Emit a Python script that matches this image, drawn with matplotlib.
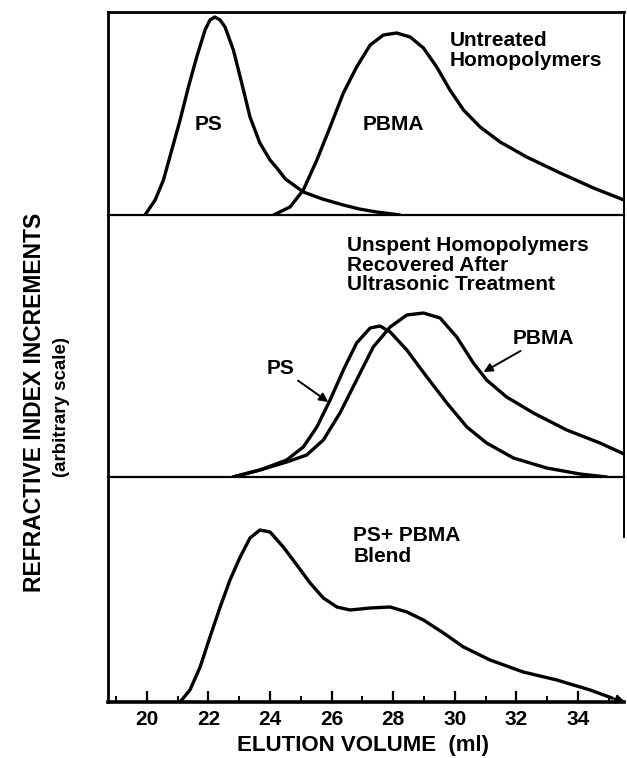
import matplotlib
matplotlib.use("Agg")
import matplotlib.pyplot as plt
from matplotlib.ticker import MultipleLocator

plt.rcParams['font.family'] = ['Liberation Sans', 'DejaVu Sans']
plt.rcParams['font.weight'] = 'bold'

# ---- data (elution volume in ml, detector response in arbitrary units) ----
top_ps_x = [19.94, 20.27, 20.54, 20.81, 21.08, 21.35, 21.62, 21.89, 22.05, 22.21, 22.38, 22.54, 22.81, 23.08, 23.35,
            23.67, 24.0, 24.22, 24.5, 25.08, 25.7, 26.38, 26.9, 27.46, 28.22]
top_ps_y = [0, 15, 35, 65, 95, 128, 158, 185, 195, 198, 195, 188, 165, 132, 98,
            72, 55, 47, 36, 23, 16, 10, 6, 3, 0]

top_pbma_x = [24.11, 24.65, 25.08, 25.52, 25.95, 26.38, 26.81, 27.25, 27.68, 28.11, 28.55, 28.98, 29.41,
              29.84, 30.28, 30.82, 31.47, 32.33, 33.42, 34.5, 35.49]
top_pbma_y = [0, 8, 25, 55, 88, 122, 148, 170, 180, 182, 178, 167, 148,
              125, 105, 88, 73, 58, 42, 27, 15]

mid_ps_x = [22.8, 23.67, 24.54, 25.08, 25.52, 25.95, 26.38, 26.81, 27.25, 27.57, 27.9, 28.44, 29.09,
            29.74, 30.39, 31.03, 31.9, 32.98, 34.06, 34.93]
mid_ps_y = [0, 7, 17, 30, 50, 77, 107, 134, 149, 151, 145, 127, 100,
            74, 50, 34, 19, 9, 3, 0]

mid_pbma_x = [22.8, 23.67, 24.54, 25.19, 25.73, 26.27, 26.81, 27.35, 27.9, 28.44, 28.98, 29.52, 30.06,
              30.6, 31.03, 31.68, 32.55, 33.63, 34.71, 35.49]
mid_pbma_y = [0, 7, 15, 22, 37, 64, 97, 130, 150, 162, 164, 159, 140,
              114, 97, 80, 64, 47, 34, 23]

blend_x = [21.08, 21.4, 21.73, 22.05, 22.38, 22.7, 23.03, 23.35, 23.67, 24.0, 24.43, 24.87, 25.3, 25.73,
           26.17, 26.6, 27.25, 27.9, 28.44, 28.98, 29.63, 30.28, 31.14, 32.22, 33.31, 34.39, 35.1]
blend_y = [0, 12, 35, 65, 95, 122, 145, 164, 172, 170, 155, 137, 119, 104,
           95, 92, 94, 95, 90, 82, 69, 55, 42, 30, 22, 12, 4]

xticks = [20, 22, 24, 26, 28, 30, 32, 34]

W, H = 627, 758
fig = plt.figure(figsize=(W / 100, H / 100), dpi=100)

def px_axes(top, bottom, left=108, right=624):
    return fig.add_axes([left / W, (H - bottom) / H, (right - left) / W, (bottom - top) / H])

ax1 = px_axes(12, 215)
ax2 = px_axes(215, 477)
ax3 = px_axes(477, 702)

lw = 2.4
for ax, ymax in ((ax1, 203), (ax2, 262), (ax3, 225)):
    ax.set_xlim(18.74, 35.49)
    ax.set_ylim(0, ymax)
    ax.set_yticks([])
    ax.spines['right'].set_linewidth(1.4)
    ax.spines['left'].set_linewidth(2.0)
    ax.spines['bottom'].set_linewidth(1.6)
    ax.spines['top'].set_linewidth(2.0)
    ax.patch.set_alpha(0)
ax2.spines['top'].set_visible(False)
ax3.spines['top'].set_visible(False)
ax3.spines['bottom'].set_linewidth(2.6)
ax3.spines['right'].set_bounds(165, 225)

for ax in (ax1, ax2):
    ax.set_xticks([])

# top panel
ax1.plot(top_ps_x, top_ps_y, color='black', lw=lw, solid_joinstyle='round', solid_capstyle='round')
ax1.plot(top_pbma_x, top_pbma_y, color='black', lw=lw, solid_joinstyle='round', solid_capstyle='round')
ax1.text(22.0, 91, 'PS', fontsize=15, fontweight='bold', ha='center', va='center')
ax1.text(28.0, 91, 'PBMA', fontsize=15, fontweight='bold', ha='center', va='center')
ax1.text(29.84, 184, 'Untreated\nHomopolymers', fontsize=15, fontweight='bold', ha='left', va='top',
         linespacing=1.1)

# middle panel
ax2.plot(mid_ps_x, mid_ps_y, color='black', lw=lw, solid_joinstyle='round', solid_capstyle='round')
ax2.plot(mid_pbma_x, mid_pbma_y, color='black', lw=lw, solid_joinstyle='round', solid_capstyle='round')
ax2.text(26.5, 241, 'Unspent Homopolymers\nRecovered After\nUltrasonic Treatment', fontsize=15,
         fontweight='bold', ha='left', va='top', linespacing=1.05)
ax2.annotate('PS', xy=(25.89, 75), xytext=(24.33, 109), fontsize=15, fontweight='bold',
             ha='center', va='center',
             arrowprops=dict(arrowstyle='-|>', color='black', lw=1.4, mutation_scale=13, shrinkA=1, shrinkB=0))
ax2.annotate('PBMA', xy=(30.93, 105), xytext=(32.87, 139), fontsize=15, fontweight='bold',
             ha='center', va='center',
             arrowprops=dict(arrowstyle='-|>', color='black', lw=1.4, mutation_scale=13, shrinkA=1, shrinkB=0))

# bottom panel
ax3.plot(blend_x, blend_y, color='black', lw=lw, solid_joinstyle='round', solid_capstyle='round')
ax3.annotate('', xy=(35.53, 0), xytext=(blend_x[-1], blend_y[-1]), annotation_clip=False,
             arrowprops=dict(arrowstyle='-|>', color='black', lw=1.5, mutation_scale=13, shrinkA=0, shrinkB=0))
ax3.text(26.7, 176, 'PS+ PBMA\nBlend', fontsize=15, fontweight='bold', ha='left', va='top', linespacing=1.1)

ax3.set_xticks(xticks)
ax3.xaxis.set_minor_locator(MultipleLocator(1))
ax3.tick_params(axis='x', which='major', direction='in', length=8, width=1.6, labelsize=15, pad=6)
ax3.tick_params(axis='x', which='minor', direction='in', length=4.5, width=1.4)
for lab in ax3.get_xticklabels():
    lab.set_fontweight('bold')

fig.text(363 / W, 1 - 745 / H, 'ELUTION VOLUME  (ml)', fontsize=16, fontweight='bold', ha='center', va='center')
fig.text(35 / W, 1 - 402 / H, 'REFRACTIVE INDEX INCREMENTS', rotation=90, fontsize=16.5,
         fontweight='bold', ha='center', va='center')
fig.text(61 / W, 1 - 407 / H, '(arbitrary scale)', rotation=90, fontsize=13.5,
         fontweight='bold', ha='center', va='center')

fig.savefig('out.png', dpi=100)
